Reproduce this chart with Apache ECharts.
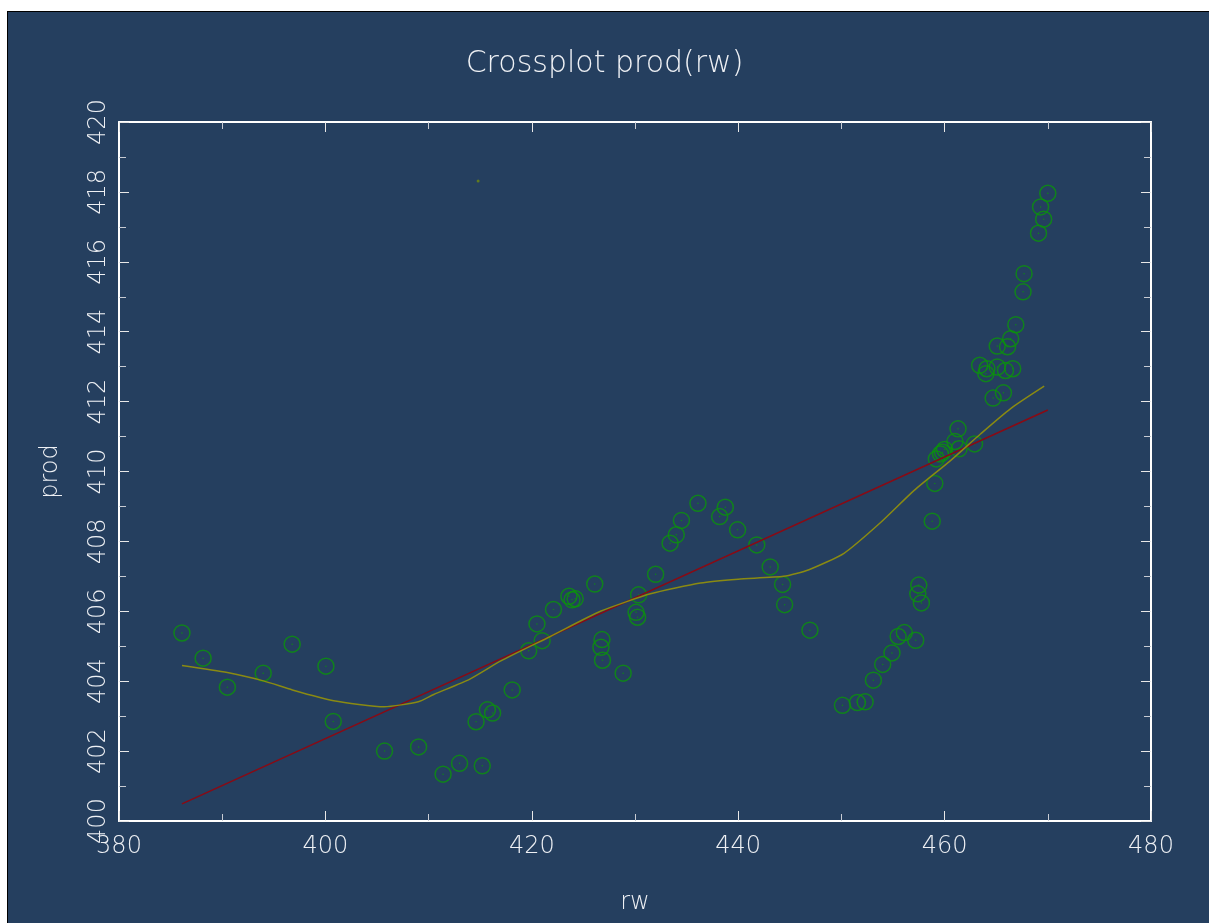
<!DOCTYPE html>
<html>
<head>
<meta charset="utf-8">
<script src="https://cdn.jsdelivr.net/npm/echarts@6/dist/echarts.min.js"></script>
<style>
  html, body { margin: 0; padding: 0; background: #ffffff; }
  #frame { position: absolute; left: 7px; top: 11px; width: 1202px; height: 912px;
           border-left: 1px solid #000; border-top: 1px solid #000; background: #253f5f; }
  #chart { position: absolute; left: 0; top: 0; width: 1209px; height: 923px; }
</style>
</head>
<body>
<div id="frame"></div>
<div id="chart"></div>
<script>
// ---- data ----
const rwValues = [386.1, 388.15, 390.5, 393.97, 396.78, 400.05, 400.76, 405.73, 409.03, 411.4,
  413.0, 415.2, 414.6, 415.7, 416.2, 418.1, 419.7, 421.0, 420.5, 422.1,
  423.6, 423.9, 424.2, 426.1, 426.8, 426.7, 426.85, 428.85, 430.35, 430.1,
  430.25, 432.0, 433.4, 434.0, 434.5, 436.1, 438.75, 438.2, 439.94, 441.8,
  443.1, 444.3, 444.5, 446.95, 450.1, 451.55, 452.3, 453.1, 454.0, 454.9,
  455.5, 456.1, 457.2, 457.5, 457.4, 457.75, 458.8, 459.05, 459.2, 459.6,
  459.8, 460.0, 461.0, 461.4, 461.3, 462.9, 464.7, 465.7, 463.4, 464.1,
  464.0, 465.1, 465.9, 466.6, 465.1, 466.1, 466.4, 466.9, 467.6, 467.7,
  469.1, 469.6, 469.3, 470.0];
const prodValues = [405.38, 404.66, 403.83, 404.23, 405.06, 404.43, 402.85, 402.0, 402.12, 401.34,
  401.65, 401.58, 402.84, 403.18, 403.09, 403.75, 404.87, 405.16, 405.64, 406.05,
  406.43, 406.33, 406.36, 406.78, 405.19, 404.97, 404.6, 404.23, 406.47, 405.97,
  405.83, 407.06, 407.95, 408.19, 408.6, 409.09, 408.98, 408.71, 408.33, 407.9,
  407.27, 406.77, 406.19, 405.46, 403.31, 403.39, 403.41, 404.03, 404.48, 404.81,
  405.28, 405.39, 405.17, 406.75, 406.5, 406.24, 408.58, 409.66, 410.36, 410.5,
  410.55, 410.63, 410.86, 410.65, 411.22, 410.79, 412.1, 412.25, 413.04, 412.94,
  412.8, 412.99, 412.89, 412.94, 413.59, 413.57, 413.8, 414.2, 415.14, 415.66,
  416.82, 417.22, 417.57, 417.96];

// linear fit line (endpoints)
const fitRw = [386.1, 470.0];
const fitProd = [400.49, 411.76];

// smooth trend curve
const trendRw = [386.1, 390.5, 394.0, 396.8, 400.8, 405.7, 409.0, 410.5, 414.0, 417.0,
  421.8, 426.65, 431.5, 436.35, 440.0, 444.4, 446.85, 450.25, 453.8, 457.05,
  460.6, 463.5, 466.4, 469.65];
const trendProd = [404.45, 404.25, 404.01, 403.75, 403.44, 403.27, 403.41, 403.62, 404.06, 404.58,
  405.28, 406.0, 406.5, 406.81, 406.92, 407.0, 407.19, 407.66, 408.54, 409.46,
  410.32, 411.08, 411.8, 412.44];

// stray marker
const strayRw = [414.8];
const strayProd = [418.31];

const xTicks = [380, 400, 420, 440, 460, 480];
const yTicks = [400, 402, 404, 406, 408, 410, 412, 414, 416, 418, 420];

const zip = (a, b) => a.map((v, i) => [v, b[i]]);

const FONT = '"DejaVu Sans", sans-serif';
const TXT = '#eef0f4';

const chart = echarts.init(document.getElementById('chart'), null, { renderer: 'canvas' });

const baseX = {
  type: 'value', min: xTicks[0], max: xTicks[xTicks.length - 1], interval: 20,
  axisLine: { show: true, onZero: false, lineStyle: { color: '#ffffff', width: 2 } },
  axisTick: { show: true, inside: true, length: 10, lineStyle: { color: '#e8e8e8', width: 1 } },
  minorTick: { show: true, splitNumber: 2, length: 7, lineStyle: { color: '#c8ccd4', width: 1 } },
  splitLine: { show: false }, minorSplitLine: { show: false }
};
const baseY = {
  type: 'value', min: yTicks[0], max: yTicks[yTicks.length - 1], interval: 2,
  axisLine: { show: true, onZero: false, lineStyle: { color: '#ffffff', width: 2 } },
  axisTick: { show: true, inside: true, length: 10, lineStyle: { color: '#e8e8e8', width: 1 } },
  minorTick: { show: true, splitNumber: 2, length: 7, lineStyle: { color: '#c8ccd4', width: 1 } },
  splitLine: { show: false }, minorSplitLine: { show: false }
};

chart.setOption({
  backgroundColor: 'transparent',
  animation: false,
  title: {
    text: 'Crossplot prod(rw)', left: 'center', top: 44,
    textStyle: { color: TXT, fontFamily: FONT, fontSize: 30, fontWeight: 200 }
  },
  grid: { left: 119, right: 58, top: 122, bottom: 102, containLabel: false },
  xAxis: [
    Object.assign({}, baseX, {
      position: 'bottom',
      name: 'rw', nameLocation: 'middle', nameGap: 70,
      nameTextStyle: { color: TXT, fontFamily: FONT, fontSize: 24, fontWeight: 200 },
      axisLabel: { show: true, color: TXT, fontFamily: FONT, fontSize: 24, fontWeight: 200, margin: 14 }
    }),
    Object.assign({}, baseX, { position: 'top', axisLabel: { show: false } })
  ],
  yAxis: [
    Object.assign({}, baseY, {
      position: 'left',
      name: 'prod', nameLocation: 'middle', nameGap: 56, nameRotate: 90,
      nameTextStyle: { color: TXT, fontFamily: FONT, fontSize: 24, fontWeight: 200 },
      axisLabel: { show: true, rotate: 90, color: TXT, fontFamily: FONT, fontSize: 24, fontWeight: 200, margin: 8 }
    }),
    Object.assign({}, baseY, { position: 'right', axisLabel: { show: false } })
  ],
  series: [
    {
      type: 'scatter', xAxisIndex: 0, yAxisIndex: 0,
      data: zip(rwValues, prodValues),
      symbol: 'circle', symbolSize: 16,
      itemStyle: { color: 'rgba(0,0,0,0)', borderColor: '#0b940b', borderWidth: 1.5 },
      z: 3
    },
    {
      type: 'scatter', xAxisIndex: 0, yAxisIndex: 0,
      data: zip(rwValues, prodValues),
      symbol: 'circle', symbolSize: 1.5,
      itemStyle: { color: '#0b940b' },
      z: 3
    },
    {
      type: 'scatter', xAxisIndex: 0, yAxisIndex: 0,
      data: zip(strayRw, strayProd),
      symbol: 'circle', symbolSize: 3,
      itemStyle: { color: '#6f8a10' },
      z: 3
    },
    {
      type: 'line', xAxisIndex: 0, yAxisIndex: 0,
      data: zip(fitRw, fitProd),
      showSymbol: false, symbol: 'none',
      lineStyle: { color: '#8a0a14', width: 1.5 },
      z: 4
    },
    {
      type: 'line', xAxisIndex: 0, yAxisIndex: 0,
      data: zip(trendRw, trendProd),
      showSymbol: false, symbol: 'none', smooth: 0.2,
      lineStyle: { color: '#8a8a12', width: 1.5 },
      z: 5
    }
  ]
});
</script>
</body>
</html>
